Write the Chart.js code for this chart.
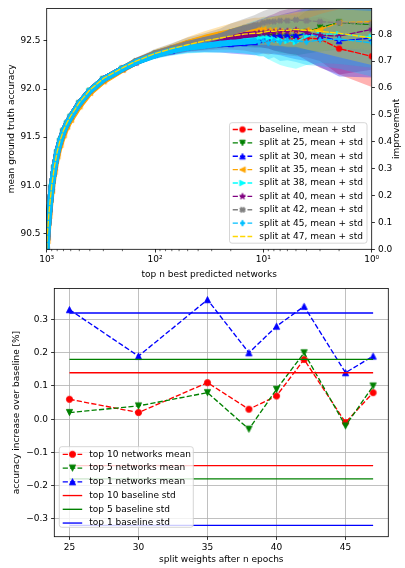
<!DOCTYPE html>
<html>
<head>
    <title>Split weights vs baseline</title>
    <script src="https://cdn.jsdelivr.net/npm/chart.js"></script>
    <style>
        body { margin: 0; background: #fff; }
        canvas { position: absolute; left: 0; }
        #topChart { top: 0; }
        #bottomChart { top: 280px; }
    </style>
</head>
<body>
    <canvas id="topChart" width="405" height="285"></canvas>
    <canvas id="bottomChart" width="405" height="288"></canvas>
    <script>
        // ---- top plot: mean ground truth accuracy of the top n predicted networks ----
        const topN = [1000, 990, 950, 900, 850, 800, 750, 700, 650, 600, 500, 400, 300, 200, 150, 100, 70, 50, 35, 25,
                      20, 15, 12, 11, 10, 9, 8, 7, 6, 5, 4, 3, 2, 1];

        const baseline = [90.33, 90.46, 90.72, 90.98, 91.18, 91.34, 91.46, 91.56, 91.64, 91.71, 91.85, 91.98, 92.10, 92.21, 92.28, 92.36, 92.40, 92.44, 92.46, 92.48,
                          92.49, 92.50, 92.50, 92.51, 92.51, 92.51, 92.52, 92.52, 92.52, 92.52, 92.53, 92.52, 92.42, 92.34];
        const split25 = [90.33, 90.46, 90.72, 90.98, 91.18, 91.34, 91.46, 91.56, 91.64, 91.71, 91.85, 91.98, 92.10, 92.21, 92.28, 92.36, 92.41, 92.45, 92.48, 92.51,
                         92.53, 92.55, 92.56, 92.56, 92.57, 92.57, 92.56, 92.55, 92.55, 92.54, 92.59, 92.64, 92.69, 92.67];
        const split30 = [90.33, 90.46, 90.72, 90.98, 91.18, 91.34, 91.46, 91.56, 91.64, 91.71, 91.85, 91.98, 92.10, 92.21, 92.28, 92.36, 92.40, 92.44, 92.46, 92.47,
                         92.47, 92.48, 92.49, 92.51, 92.53, 92.54, 92.55, 92.56, 92.56, 92.56, 92.57, 92.55, 92.50, 92.53];
        const split35 = [90.30, 90.42, 90.68, 90.94, 91.14, 91.30, 91.42, 91.52, 91.61, 91.68, 91.82, 91.96, 92.08, 92.20, 92.28, 92.37, 92.42, 92.48, 92.53, 92.57,
                         92.59, 92.62, 92.62, 92.62, 92.62, 92.61, 92.61, 92.60, 92.60, 92.60, 92.61, 92.62, 92.69, 92.70];
        const split38 = [90.33, 90.46, 90.72, 90.98, 91.18, 91.34, 91.46, 91.56, 91.64, 91.71, 91.85, 91.98, 92.10, 92.21, 92.28, 92.36, 92.40, 92.44, 92.47, 92.49,
                         92.50, 92.52, 92.53, 92.53, 92.54, 92.53, 92.52, 92.51, 92.50, 92.49, 92.55, 92.57, 92.57, 92.54];
        const split40 = [90.33, 90.46, 90.72, 90.98, 91.18, 91.34, 91.46, 91.56, 91.64, 91.71, 91.85, 91.98, 92.10, 92.21, 92.28, 92.36, 92.41, 92.45, 92.48, 92.51,
                         92.53, 92.56, 92.57, 92.58, 92.58, 92.59, 92.59, 92.60, 92.60, 92.61, 92.59, 92.56, 92.55, 92.62];
        const split42 = [90.33, 90.46, 90.72, 90.98, 91.18, 91.34, 91.46, 91.56, 91.64, 91.71, 91.85, 91.98, 92.10, 92.21, 92.29, 92.37, 92.42, 92.47, 92.51, 92.55,
                         92.59, 92.63, 92.66, 92.67, 92.69, 92.70, 92.70, 92.71, 92.71, 92.72, 92.71, 92.70, 92.69, 92.68];
        const split45 = [90.33, 90.46, 90.72, 90.98, 91.18, 91.34, 91.46, 91.56, 91.64, 91.71, 91.85, 91.98, 92.10, 92.21, 92.28, 92.35, 92.40, 92.43, 92.45, 92.47,
                         92.48, 92.49, 92.50, 92.49, 92.50, 92.48, 92.51, 92.49, 92.51, 92.50, 92.49, 92.51, 92.52, 92.48];
        const split47 = [90.34, 90.47, 90.73, 90.99, 91.19, 91.35, 91.47, 91.57, 91.65, 91.72, 91.86, 91.99, 92.11, 92.22, 92.29, 92.37, 92.42, 92.46, 92.50, 92.53,
                         92.55, 92.57, 92.58, 92.58, 92.59, 92.60, 92.60, 92.61, 92.61, 92.62, 92.61, 92.60, 92.58, 92.53];

        const baselineStd = [0.02, 0.02, 0.02, 0.02, 0.02, 0.02, 0.02, 0.02, 0.02, 0.02, 0.02, 0.02, 0.02, 0.025, 0.03, 0.035, 0.04, 0.05, 0.06, 0.07,
                             0.08, 0.10, 0.12, 0.13, 0.14, 0.15, 0.15, 0.16, 0.17, 0.18, 0.20, 0.23, 0.27, 0.32];
        const split25Std = [0.02, 0.02, 0.02, 0.02, 0.02, 0.02, 0.02, 0.02, 0.02, 0.02, 0.02, 0.02, 0.02, 0.025, 0.03, 0.035, 0.045, 0.055, 0.07, 0.08,
                            0.09, 0.11, 0.13, 0.13, 0.14, 0.15, 0.16, 0.17, 0.18, 0.19, 0.22, 0.25, 0.28, 0.30];
        const split30Std = [0.02, 0.02, 0.02, 0.02, 0.02, 0.02, 0.02, 0.02, 0.02, 0.02, 0.02, 0.02, 0.025, 0.03, 0.035, 0.04, 0.05, 0.06, 0.075, 0.09,
                            0.10, 0.12, 0.14, 0.15, 0.16, 0.17, 0.19, 0.21, 0.23, 0.25, 0.28, 0.32, 0.37, 0.41];
        const split35Std = [0.02, 0.02, 0.02, 0.02, 0.02, 0.02, 0.02, 0.02, 0.02, 0.02, 0.02, 0.02, 0.02, 0.025, 0.03, 0.04, 0.05, 0.06, 0.07, 0.08,
                            0.09, 0.10, 0.12, 0.12, 0.13, 0.14, 0.15, 0.16, 0.17, 0.18, 0.20, 0.23, 0.26, 0.30];
        const split38Std = [0.02, 0.02, 0.02, 0.02, 0.02, 0.02, 0.02, 0.02, 0.02, 0.02, 0.02, 0.02, 0.025, 0.03, 0.035, 0.045, 0.055, 0.07, 0.09, 0.11,
                            0.12, 0.15, 0.18, 0.19, 0.20, 0.22, 0.24, 0.26, 0.27, 0.28, 0.30, 0.30, 0.31, 0.32];
        const split40Std = [0.02, 0.02, 0.02, 0.02, 0.02, 0.02, 0.02, 0.02, 0.02, 0.02, 0.02, 0.02, 0.02, 0.025, 0.03, 0.04, 0.05, 0.06, 0.07, 0.08,
                            0.09, 0.11, 0.13, 0.14, 0.15, 0.17, 0.19, 0.21, 0.23, 0.25, 0.29, 0.34, 0.40, 0.42];
        const split42Std = [0.02, 0.02, 0.02, 0.02, 0.02, 0.02, 0.02, 0.02, 0.02, 0.02, 0.02, 0.02, 0.025, 0.03, 0.035, 0.045, 0.055, 0.065, 0.07, 0.08,
                            0.09, 0.10, 0.11, 0.12, 0.12, 0.13, 0.14, 0.15, 0.16, 0.17, 0.19, 0.21, 0.24, 0.27];
        const split45Std = [0.02, 0.02, 0.02, 0.02, 0.02, 0.02, 0.02, 0.02, 0.02, 0.02, 0.02, 0.02, 0.02, 0.025, 0.03, 0.035, 0.045, 0.055, 0.07, 0.09,
                            0.10, 0.12, 0.14, 0.15, 0.16, 0.17, 0.18, 0.20, 0.21, 0.22, 0.24, 0.27, 0.31, 0.35];
        const split47Std = [0.02, 0.02, 0.02, 0.02, 0.02, 0.02, 0.02, 0.02, 0.02, 0.02, 0.02, 0.02, 0.02, 0.025, 0.03, 0.035, 0.04, 0.05, 0.06, 0.07,
                            0.08, 0.10, 0.11, 0.12, 0.13, 0.14, 0.15, 0.16, 0.17, 0.18, 0.20, 0.22, 0.25, 0.28];

        const topXTicks = [1000, 100, 10, 1];
        const topXLabels = {1000: '10\u00b3', 100: '10\u00b2', 10: '10\u00b9', 1: '10\u2070'};
        const topYTicks = [90.5, 91.0, 91.5, 92.0, 92.5];
        const improvementTicks = [0.0, 0.1, 0.2, 0.3, 0.4, 0.5, 0.6, 0.7, 0.8];

        // ---- bottom plot: accuracy increase over baseline per split epoch ----
        const splitEpochs = [25, 30, 35, 38, 40, 42, 45, 47];
        const top10Mean = [0.06, 0.02, 0.11, 0.03, 0.07, 0.18, -0.01, 0.08];
        const top5Mean = [0.02, 0.04, 0.08, -0.03, 0.09, 0.20, -0.02, 0.10];
        const top1Mean = [0.33, 0.19, 0.36, 0.20, 0.28, 0.34, 0.14, 0.19];
        const top10Std = 0.14;
        const top5Std = 0.18;
        const top1Std = 0.32;
        const stdSpan = [25, 47];
        const bottomXTicks = [25, 30, 35, 40, 45];
        const bottomYTicks = [-0.3, -0.2, -0.1, 0.0, 0.1, 0.2, 0.3];

        Chart.defaults.font.family = "'DejaVu Sans', sans-serif";
        Chart.defaults.font.size = 9;
        Chart.defaults.color = '#000';

        function rgba(hex, a) {
            const v = parseInt(hex.slice(1), 16);
            return `rgba(${(v >> 16) & 255}, ${(v >> 8) & 255}, ${v & 255}, ${a})`;
        }

        // matplotlib-like filled markers, used as pointStyle images
        function marker(shape, color, size) {
            const c = document.createElement('canvas');
            const s = Math.ceil(size + 4);
            c.width = s; c.height = s;
            const g = c.getContext('2d');
            const h = size / 2;
            g.translate(s / 2, s / 2);
            g.beginPath();
            if (shape === 'circle') {
                g.arc(0, 0, h, 0, Math.PI * 2);
            } else if (shape === 'down') {
                g.moveTo(0, h); g.lineTo(-h, -h); g.lineTo(h, -h);
            } else if (shape === 'up') {
                g.moveTo(0, -h); g.lineTo(-h, h); g.lineTo(h, h);
            } else if (shape === 'left') {
                g.moveTo(-h, 0); g.lineTo(h, -h); g.lineTo(h, h);
            } else if (shape === 'right') {
                g.moveTo(h, 0); g.lineTo(-h, -h); g.lineTo(-h, h);
            } else if (shape === 'star') {
                for (let k = 0; k < 10; k++) {
                    const r = k % 2 ? h * 0.45 : h * 1.15;
                    const a = -Math.PI / 2 + k * Math.PI / 5;
                    g.lineTo(r * Math.cos(a), r * Math.sin(a));
                }
            } else if (shape === 'x') {
                const w = h * 0.38, pts = [[w, -h], [w, -w], [h, -w], [h, w], [w, w], [w, h], [-w, h], [-w, w], [-h, w], [-h, -w], [-w, -w], [-w, -h]];
                const ca = Math.SQRT1_2;
                pts.forEach(([px, py]) => g.lineTo((px - py) * ca, (px + py) * ca));
            } else if (shape === 'thin') {
                g.moveTo(0, -h * 1.1); g.lineTo(h * 0.65, 0); g.lineTo(0, h * 1.1); g.lineTo(-h * 0.65, 0);
            }
            g.closePath();
            g.fillStyle = color; g.fill();
            g.strokeStyle = color; g.lineWidth = 0.9; g.stroke();
            return c;
        }

        function framePlugin() {
            return {
                id: 'frame',
                afterDatasetsDraw(chart) {
                    const {ctx, chartArea: a} = chart;
                    ctx.save();
                    ctx.strokeStyle = '#000';
                    ctx.lineWidth = 0.8;
                    ctx.strokeRect(a.left, a.top, a.right - a.left, a.bottom - a.top);
                    ctx.restore();
                }
            };
        }

        function legendPlugin(cfg) {
            return {
                id: 'boxLegend',
                afterDraw(chart) {
                    const ctx = chart.ctx;
                    ctx.save();
                    ctx.beginPath();
                    ctx.roundRect(cfg.left, cfg.top, cfg.width, cfg.height, 2.5);
                    ctx.fillStyle = 'rgba(255,255,255,0.8)';
                    ctx.fill();
                    ctx.strokeStyle = '#cccccc';
                    ctx.lineWidth = 0.8;
                    ctx.stroke();
                    cfg.items.forEach((it, i) => {
                        const y = cfg.firstRow + i * cfg.rowStep;
                        ctx.beginPath();
                        ctx.setLineDash(it.dashed ? [5.2, 2.2] : []);
                        ctx.strokeStyle = it.color;
                        ctx.lineWidth = 1.35;
                        ctx.moveTo(cfg.lineStart, y);
                        ctx.lineTo(cfg.lineEnd, y);
                        ctx.stroke();
                        ctx.setLineDash([]);
                        if (it.marker) {
                            const mx = (cfg.lineStart + cfg.lineEnd) / 2;
                            ctx.drawImage(it.marker, mx - it.marker.width / 2, y - it.marker.height / 2);
                        }
                        ctx.fillStyle = '#000';
                        ctx.font = "9px 'DejaVu Sans'";
                        ctx.textBaseline = 'middle';
                        ctx.fillText(it.label, cfg.textX, y);
                    });
                    ctx.restore();
                }
            };
        }

        document.addEventListener('DOMContentLoaded', function() {
            const topSeries = [
                {label: 'baseline, mean + std', mean: baseline, std: baselineStd, color: '#ff0000', shape: 'circle'},
                {label: 'split at 25, mean + std', mean: split25, std: split25Std, color: '#008000', shape: 'down'},
                {label: 'split at 30, mean + std', mean: split30, std: split30Std, color: '#0000ff', shape: 'up'},
                {label: 'split at 35, mean + std', mean: split35, std: split35Std, color: '#ffa500', shape: 'left'},
                {label: 'split at 38, mean + std', mean: split38, std: split38Std, color: '#00ffff', shape: 'right'},
                {label: 'split at 40, mean + std', mean: split40, std: split40Std, color: '#800080', shape: 'star'},
                {label: 'split at 42, mean + std', mean: split42, std: split42Std, color: '#808080', shape: 'x'},
                {label: 'split at 45, mean + std', mean: split45, std: split45Std, color: '#00bfff', shape: 'thin'},
                {label: 'split at 47, mean + std', mean: split47, std: split47Std, color: '#ffd700', shape: null}
            ];

            const topDatasets = [];
            // std bands first (drawn beneath all lines, like fill_between zorder)
            topSeries.forEach((s, i) => {
                const lowerIndex = topDatasets.length;
                topDatasets.push({
                    data: topN.map((n, k) => ({x: n, y: s.mean[k] - s.std[k]})),
                    borderWidth: 0, borderColor: 'rgba(0,0,0,0)', pointRadius: 0, fill: false, order: 3000 - 2 * i
                });
                topDatasets.push({
                    data: topN.map((n, k) => ({x: n, y: s.mean[k] + s.std[k]})),
                    borderWidth: 0, borderColor: 'rgba(0,0,0,0)', pointRadius: 0, order: 2999 - 2 * i,
                    fill: {target: lowerIndex}, backgroundColor: rgba(s.color, 0.3)
                });
            });
            topSeries.forEach((s, i) => {
                s.markerImg = s.shape ? marker(s.shape, s.color, 5.6) : null;
                const dense = ctx => topN[ctx.p1DataIndex] >= 12 && s.shape;
                topDatasets.push({
                    label: s.label,
                    data: topN.map((n, k) => ({x: n, y: s.mean[k]})),
                    borderColor: s.color,
                    backgroundColor: s.color,
                    borderWidth: 1.35,
                    borderDash: [5.2, 2.2],
                    borderCapStyle: 'round',
                    borderJoinStyle: 'round',
                    pointStyle: s.markerImg || 'circle',
                    pointRadius: s.shape ? 3 : 0,
                    fill: false,
                    order: 1000 - i,
                    segment: {
                        borderWidth: ctx => dense(ctx) ? 6 : 1.35,
                        borderDash: ctx => dense(ctx) ? [] : [5.2, 2.2]
                    }
                });
            });

            const minorTicks = {
                id: 'minorTicks',
                afterDraw(chart) {
                    const {ctx, chartArea: a, scales} = chart;
                    ctx.save();
                    ctx.strokeStyle = '#000';
                    ctx.lineWidth = 0.6;
                    [1, 10, 100].forEach(dec => {
                        for (let m = 2; m <= 9; m++) {
                            const px = scales.x.getPixelForValue(dec * m);
                            ctx.beginPath();
                            ctx.moveTo(px, a.bottom);
                            ctx.lineTo(px, a.bottom + 1.9);
                            ctx.stroke();
                        }
                    });
                    // right-hand axis title, reading bottom to top
                    ctx.translate(397, (a.top + a.bottom) / 2);
                    ctx.rotate(-Math.PI / 2);
                    ctx.fillStyle = '#000';
                    ctx.font = "9px 'DejaVu Sans'";
                    ctx.textAlign = 'center';
                    ctx.textBaseline = 'middle';
                    ctx.fillText('improvement', 0, 0);
                    ctx.restore();
                }
            };

            const tickOpts = {tickLength: 3.2, tickWidth: 0.8, tickColor: '#000'};

            new Chart(document.getElementById('topChart').getContext('2d'), {
                type: 'line',
                data: {datasets: topDatasets},
                options: {
                    responsive: false,
                    animation: false,
                    layout: {padding: {top: 7.3, left: 0, right: 0, bottom: 0}},
                    plugins: {legend: {display: false}, tooltip: {enabled: false}},
                    scales: {
                        x: {
                            type: 'logarithmic', reverse: true, min: 1, max: 1000,
                            afterFit: s => { s.height = 35.7; },
                            afterBuildTicks: s => { s.ticks = topXTicks.map(v => ({value: v})); },
                            ticks: {callback: v => topXLabels[v], autoSkip: false, maxRotation: 0, padding: 2},
                            grid: Object.assign({drawOnChartArea: false}, tickOpts),
                            border: {display: false},
                            title: {display: true, text: 'top n best predicted networks', padding: {top: 0, bottom: 5.3}}
                        },
                        y: {
                            position: 'left', min: 90.334, max: 92.838,
                            afterFit: s => { s.width = 46.7; },
                            afterBuildTicks: s => { s.ticks = topYTicks.map(v => ({value: v})); },
                            ticks: {callback: v => v.toFixed(1), padding: 3},
                            grid: Object.assign({drawOnChartArea: false}, tickOpts),
                            border: {display: false},
                            title: {display: true, text: 'mean ground truth accuracy', padding: {top: 6.3, bottom: 0}}
                        },
                        y2: {
                            position: 'right', min: 0, max: 0.896,
                            afterFit: s => { s.width = 33.3; },
                            afterBuildTicks: s => { s.ticks = improvementTicks.map(v => ({value: v})); },
                            ticks: {callback: v => v.toFixed(1), padding: 3},
                            grid: Object.assign({drawOnChartArea: false}, tickOpts),
                            border: {display: false}
                        }
                    }
                },
                plugins: [framePlugin(), minorTicks, legendPlugin({
                    left: 229.5, top: 122.7, width: 137.5, height: 120.5,
                    firstRow: 129.5, rowStep: 13.38, lineStart: 232.7, lineEnd: 252.2, textX: 259.3,
                    items: topSeries.map(s => ({label: s.label, color: s.color, dashed: true, marker: s.markerImg}))
                })]
            });

            // ---- bottom chart ----
            const bottomSeries = [
                {label: 'top 10 networks mean', values: top10Mean, color: '#ff0000', shape: 'circle'},
                {label: 'top 5 networks mean', values: top5Mean, color: '#008000', shape: 'down'},
                {label: 'top 1 networks mean', values: top1Mean, color: '#0000ff', shape: 'up'}
            ];
            const stdSeries = [
                {label: 'top 10 baseline std', std: top10Std, color: '#ff0000'},
                {label: 'top 5 baseline std', std: top5Std, color: '#008000'},
                {label: 'top 1 baseline std', std: top1Std, color: '#0000ff'}
            ];

            const bottomDatasets = [];
            let order = 100;
            bottomSeries.forEach(s => {
                s.markerImg = marker(s.shape, s.color, 6.2);
                bottomDatasets.push({
                    label: s.label,
                    data: splitEpochs.map((e, k) => ({x: e, y: s.values[k]})),
                    borderColor: s.color, backgroundColor: s.color,
                    borderWidth: 1.35, borderDash: [5.2, 2.2],
                    pointStyle: s.markerImg, pointRadius: 3.4,
                    fill: false, order: order--
                });
            });
            stdSeries.forEach(s => {
                [s.std, -s.std].forEach(v => {
                    bottomDatasets.push({
                        data: stdSpan.map(e => ({x: e, y: v})),
                        borderColor: s.color, borderWidth: 1.35,
                        pointRadius: 0, fill: false, order: order--
                    });
                });
            });

            const gridOpts = Object.assign({color: '#b0b0b0', lineWidth: 0.8, drawOnChartArea: true}, tickOpts);

            new Chart(document.getElementById('bottomChart').getContext('2d'), {
                type: 'line',
                data: {datasets: bottomDatasets},
                options: {
                    responsive: false,
                    animation: false,
                    layout: {padding: {top: 7.3, left: 0, right: 16.7, bottom: 0}},
                    plugins: {legend: {display: false}, tooltip: {enabled: false}},
                    scales: {
                        x: {
                            type: 'linear', min: 23.9, max: 48.1,
                            afterFit: s => { s.height = 31.3; },
                            afterBuildTicks: s => { s.ticks = bottomXTicks.map(v => ({value: v})); },
                            ticks: {padding: 2, maxRotation: 0},
                            grid: gridOpts,
                            border: {display: false},
                            title: {display: true, text: 'split weights after n epochs', padding: {top: 0, bottom: 2.6}}
                        },
                        y: {
                            min: -0.354, max: 0.394,
                            afterFit: s => { s.width = 54.3; },
                            afterBuildTicks: s => { s.ticks = bottomYTicks.map(v => ({value: v})); },
                            ticks: {callback: v => v.toFixed(1).replace('-', '\u2212'), padding: 3},
                            grid: gridOpts,
                            border: {display: false},
                            title: {display: true, text: 'accuracy increase over baseline [%]', padding: {top: 11.3, bottom: 0}}
                        }
                    }
                },
                plugins: [framePlugin(), legendPlugin({
                    left: 59.3, top: 166.7, width: 134, height: 80.6,
                    firstRow: 174.3, rowStep: 13.75, lineStart: 62.7, lineEnd: 82.2, textX: 89.3,
                    items: bottomSeries.map(s => ({label: s.label, color: s.color, dashed: true, marker: s.markerImg}))
                        .concat(stdSeries.map(s => ({label: s.label, color: s.color, dashed: false, marker: null})))
                })]
            });
        });
    </script>
</body>
</html>
